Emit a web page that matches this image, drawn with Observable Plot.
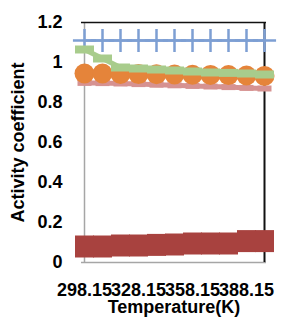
<!DOCTYPE html>
<html><head><meta charset="utf-8">
<script src="https://cdn.jsdelivr.net/npm/d3@7"></script>
<script src="https://cdn.jsdelivr.net/npm/@observablehq/plot@0.6"></script>
<style>html,body{margin:0;padding:0;background:#fff} svg{display:block}</style>
</head><body><div id="chart"></div>
<script>
const temperatures = ["298.15","308.15","318.15","328.15","338.15","348.15","358.15","368.15","378.15","388.15","398.15"];
const xTickLabels = ["298.15","328.15","358.15","388.15"];
const yTicks = [0, 0.2, 0.4, 0.6, 0.8, 1, 1.2];
const seriesBlue   = [1.11, 1.11, 1.11, 1.11, 1.11, 1.11, 1.11, 1.11, 1.11, 1.11, 1.11];
const seriesGreen  = [1.065, 1.02, 0.975, 0.97, 0.965, 0.96, 0.955, 0.95, 0.948, 0.945, 0.94];
const seriesOrange = [0.945, 0.945, 0.943, 0.942, 0.941, 0.94, 0.939, 0.938, 0.937, 0.935, 0.933];
const seriesPink   = [0.898, 0.897, 0.895, 0.892, 0.889, 0.886, 0.883, 0.88, 0.877, 0.873, 0.87];
const seriesRed    = [0.08, 0.08, 0.085, 0.085, 0.088, 0.09, 0.095, 0.095, 0.095, 0.107, 0.107];
const xTitle = "Temperature(K)";
const yTitle = "Activity coefficient";

const rows = s => temperatures.map((t, i) => ({t, v: s[i]}));
const box = (w, h) => ({draw(ctx) { ctx.rect(-w / 2, -h / 2, w, h); }});

const font = "Liberation Sans, Arial, sans-serif";
const blue = "#7d9fd3", green = "#a8cc8c", orange = "#e5843a", pink = "#d69291", red = "#a8423f";

const chart = Plot.plot({
  width: 281, height: 325,
  marginLeft: 81, marginRight: 15, marginTop: 22, marginBottom: 63,
  style: {fontFamily: font, fontSize: "18px", fontWeight: "bold", color: "#000", background: "#fff"},
  x: {type: "point", domain: temperatures, padding: 0, label: null, ticks: xTickLabels, tickSize: 0, tickPadding: 21},
  y: {domain: [0, 1.2], ticks: yTicks, tickFormat: d3.format("~g"), label: null, tickSize: 0, tickPadding: 19},
  marks: [
    Plot.ruleY([0], {stroke: "#a6a6a6", strokeWidth: 1.5}),
    Plot.ruleX([temperatures[0]], {stroke: "#a6a6a6", strokeWidth: 1.5}),
    Plot.ruleY([1.2], {stroke: "#111", strokeWidth: 1.5}),
    Plot.ruleX([temperatures[temperatures.length - 1]], {stroke: "#111", strokeWidth: 2}),
    Plot.line(rows(seriesRed), {x: "t", y: "v", stroke: red, strokeWidth: 18}),
    Plot.dot(rows(seriesRed), {x: "t", y: "v", fill: red, symbol: box(19, 22)}),
    Plot.line(rows(seriesBlue), {x: "t", y: "v", stroke: blue, strokeWidth: 2.5}),
    Plot.dot(rows(seriesBlue), {x: "t", y: "v", stroke: blue, strokeWidth: 2.5, symbol: "plus", r: 7.5}),
    Plot.line(rows(seriesPink), {x: "t", y: "v", stroke: pink, strokeWidth: 5}),
    Plot.dot(rows(seriesPink), {x: "t", y: "v", fill: pink, symbol: box(14, 6)}),
    Plot.dot(rows(seriesOrange), {x: "t", y: "v", fill: orange, r: 10}),
    Plot.line(rows(seriesGreen), {x: "t", y: "v", stroke: green, strokeWidth: 5}),
    Plot.dot(rows(seriesGreen), {x: "t", y: "v", fill: green, symbol: box(19, 8)}),
    Plot.text([xTitle], {frameAnchor: "bottom", lineAnchor: "middle", textAnchor: "middle", dy: 45, text: d => d, fill: "#000"}),
    Plot.text([yTitle], {frameAnchor: "left", lineAnchor: "middle", textAnchor: "middle", dx: -63.5, rotate: -90, text: d => d, fill: "#000"})
  ]
});
document.getElementById("chart").appendChild(chart);
</script>
</body></html>
